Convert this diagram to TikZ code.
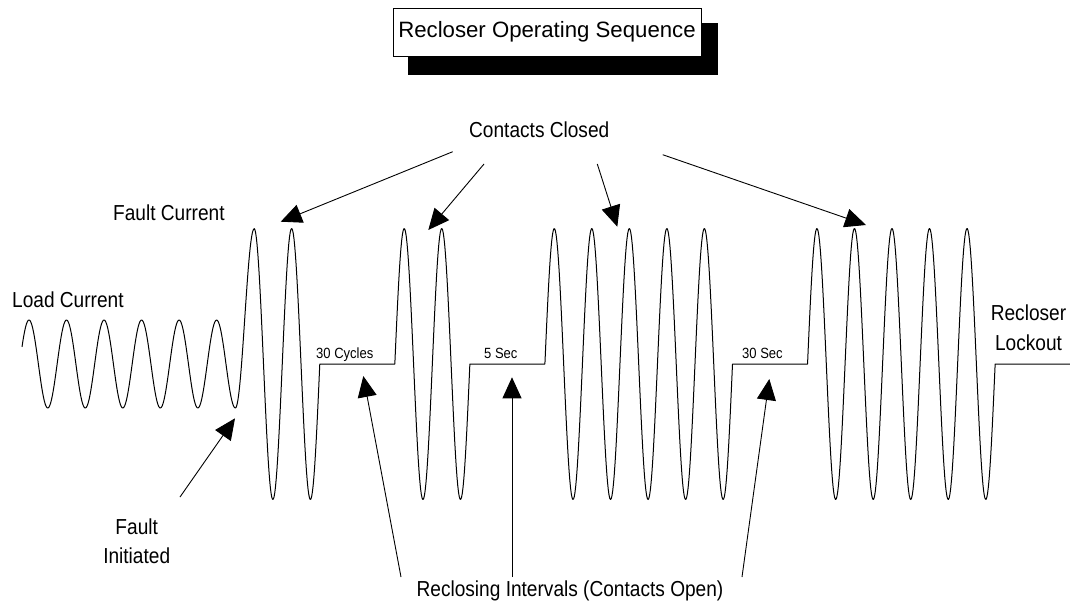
\documentclass[tikz,border=0pt]{standalone}
\usepackage{fontspec}
\setmainfont{Liberation Sans}
\newfontfamily\cadfont{Liberation Sans}[FakeStretch=0.88]
\usetikzlibrary{arrows.meta,backgrounds,calc}
\begin{document}
\begin{tikzpicture}[x=1pt,y=-1pt,
  wave/.style={line width=1pt, line join=round},
  pointer/.style={line width=0.9pt, -{Triangle[length=21pt,width=19pt]}},
  lbl/.style={inner sep=0pt, font=\cadfont\fontsize{21.7}{29.5}\selectfont},
  smalllbl/.style={inner sep=0pt, font=\cadfont\fontsize{14.8}{18}\selectfont},
  titlebox/.style={draw, line width=1pt, fill=white, inner sep=0pt,
    minimum width=308pt, minimum height=48pt,
    font=\fontsize{22.2}{26}\selectfont}]
\useasboundingbox (0,0) rectangle (1070,603);

% title with its offset shadow
\node[titlebox] (title) at (547,32) {Recloser Operating Sequence};
\begin{scope}[on background layer]
  \fill[white] (0,0) rectangle (1070,603);
  \fill[black] ($(title.north west)+(15,15)$) rectangle ($(title.south east)+(16,18)$);
\end{scope}

% current waveform: load current, fault current bursts and open intervals
% phase in degrees, period 37.52 (360/37.52 = 9.59488)
\def\wph#1{9.59488*(#1-29)}
\draw[wave]
  plot[domain=22:235.36, samples=240] (\x,{364-44*cos(\wph{\x})})
  -- plot[domain=235.36:254.12, samples=30] (\x,{318.5-89.5*cos(\wph{\x})})
  -- plot[domain=254.12:319.78, samples=90] (\x,{364-135.5*cos(\wph{\x})})
  -- (394.82,364)
  -- plot[domain=394.82:469.86, samples=100] (\x,{364-135.5*cos(\wph{\x})})
  -- (544.9,364)
  -- plot[domain=544.9:732.5, samples=250] (\x,{364-135.5*cos(\wph{\x})})
  -- (807.54,364)
  -- plot[domain=807.54:995.14, samples=250] (\x,{364-135.5*cos(\wph{\x})})
  -- (1070,364);

% labels
\node[lbl, anchor=base west] (closed) at (469,137) {Contacts Closed};
\node[lbl, anchor=base west] (fault) at (113,220) {Fault Current};
\node[lbl, anchor=base west] (load) at (12,307) {Load Current};
\node[smalllbl, anchor=base west] (cyc) at (316,358) {30 Cycles};
\node[smalllbl, anchor=base west] (fivesec) at (484,358) {5 Sec};
\node[smalllbl, anchor=base west] (thirtysec) at (742,358) {30 Sec};
\node[lbl, anchor=north, align=center] (lockout) at (1028.5,305) {Recloser\\Lockout};
\node[lbl, anchor=north, align=center] (init) at (136.7,518.5) {Fault\\Initiated};
\node[lbl, anchor=base] (intervals) at (570,596) {Reclosing Intervals (Contacts Open)};

% pointer ends
\coordinate (c1s) at (452.7,151.7); \coordinate (c1t) at (280.7,221.7);
\coordinate (c2s) at (484,164);     \coordinate (c2t) at (428.3,230);
\coordinate (c3s) at (597.3,164);   \coordinate (c3t) at (617.3,226.7);
\coordinate (c4s) at (662.7,154.7); \coordinate (c4t) at (866,225);
\coordinate (r1s) at (401,577);     \coordinate (r1t) at (363.3,376);
\coordinate (r2s) at (512,577);     \coordinate (r2t) at (512,377.3);
\coordinate (r3s) at (742,577);     \coordinate (r3t) at (769.3,379);
\coordinate (fis) at (180,497);     \coordinate (fit) at (235,418.3);

% contacts closed pointers
\draw[pointer] (c1s) -- (c1t);
\draw[pointer] (c2s) -- (c2t);
\draw[pointer] (c3s) -- (c3t);
\draw[pointer] (c4s) -- (c4t);
% reclosing interval pointers
\draw[pointer] (r1s) -- (r1t);
\draw[pointer] (r2s) -- (r2t);
\draw[pointer] (r3s) -- (r3t);
% fault initiation pointer
\draw[pointer] (fis) -- (fit);
\end{tikzpicture}
\end{document}
